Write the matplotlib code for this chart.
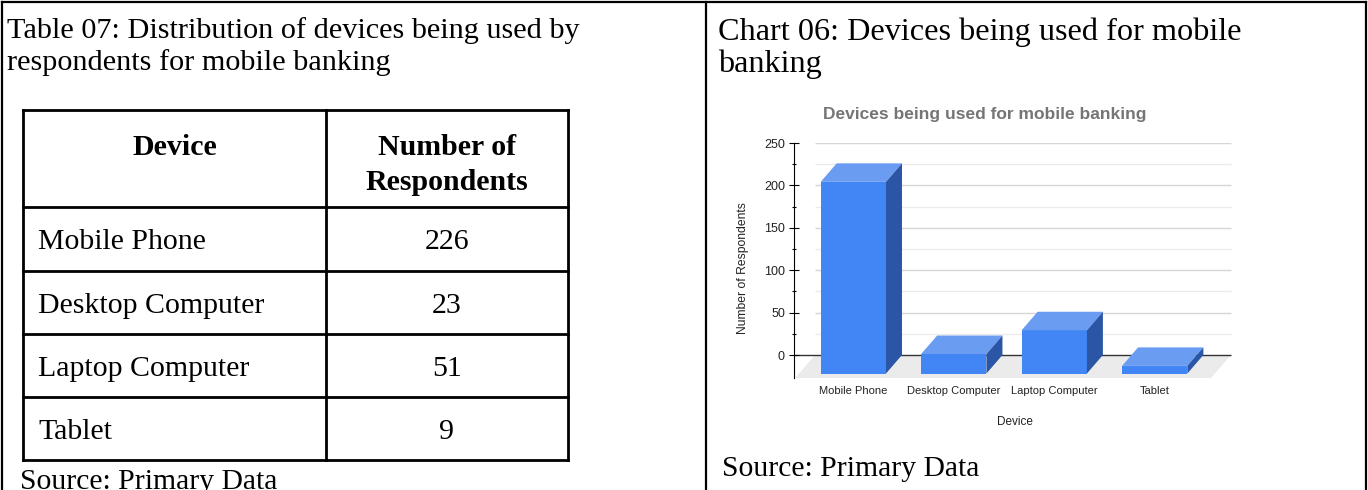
import matplotlib.pyplot as plt
from matplotlib import font_manager
from matplotlib.patches import Polygon

# survey data
devices = ['Mobile Phone', 'Desktop Computer', 'Laptop Computer', 'Tablet']
respondents = [226, 23, 51, 9]
y_major = [0, 50, 100, 150, 200, 250]
y_minor = [25, 75, 125, 175, 225]

table_caption = ['Table 07: Distribution of devices being used by',
                 'respondents for mobile banking']
chart_caption = ['Chart 06: Devices being used for mobile', 'banking']
col_headers = ['Device', 'Number of\nRespondents']
chart_title = 'Devices being used for mobile banking'
source = 'Source: Primary Data'

W, H = 1368, 490
fig = plt.figure(figsize=(W / 100, H / 100), dpi=100)

serif = 'Liberation Serif'
installed = {f.name for f in font_manager.fontManager.ttflist}
narrow = 'Liberation Sans Narrow' if 'Liberation Sans Narrow' in installed else 'Liberation Sans'
sans = 'Liberation Sans'

# page layer in pixels (y down)
page = fig.add_axes([0, 0, 1, 1])
page.set_xlim(0, W)
page.set_ylim(H, 0)
page.axis('off')

# two-cell frame of the document
frame_kw = dict(color='black', lw=1.6, solid_capstyle='projecting')
page.plot([2, 1366], [2, 2], **frame_kw)
for x in [2, 706, 1366]:
    page.plot([x, x], [2, H + 5], **frame_kw)

doc_size = 21.5
page.text(7, 38, table_caption[0], family=serif, size=21.8, va='baseline')
page.text(7, 70, table_caption[1], family=serif, size=21.8, va='baseline')
page.text(718, 40, chart_caption[0], family=serif, size=23.2, va='baseline')
page.text(718, 72, chart_caption[1], family=serif, size=23.2, va='baseline')
page.text(20, 489, source, family=serif, size=21.3, va='baseline')
page.text(722, 476, source, family=serif, size=21.3, va='baseline')

# the table
cols = [23, 326, 568]
rows = [110, 207, 271, 334, 397, 460]
grid_kw = dict(color='black', lw=2.0, capstyle='projecting')
page.hlines(rows, cols[0], cols[-1], **grid_kw)
page.vlines(cols, rows[0], rows[-1], **grid_kw)

mid0 = (cols[0] + cols[1]) / 2
mid1 = (cols[1] + cols[2]) / 2
page.text(mid0, 155, col_headers[0], family=serif, size=doc_size, weight='bold',
          ha='center', va='baseline')
for j, part in enumerate(col_headers[1].split('\n')):
    page.text(mid1, 155 + 35 * j, part, family=serif, size=doc_size, weight='bold',
              ha='center', va='baseline')
for i, (dev, n) in enumerate(zip(devices, respondents)):
    base = (rows[i + 1] + rows[i + 2]) / 2 + 10
    page.text(38, base, dev, family=serif, size=doc_size, va='baseline')
    page.text(mid1, base, str(n), family=serif, size=doc_size, ha='center', va='baseline')

# 3D-style column chart
ax = fig.add_axes([794 / W, 1 - 378 / H, (1235 - 794) / W, (378 - 143) / H])
ax.set_facecolor('none')
xmin, xmax = -0.75, 3.64
ymin, ymax = -27.1, 250
ax.set_xlim(xmin, xmax)
ax.set_ylim(ymin, ymax)
ppx = (1235 - 794) / (xmax - xmin)
ppy = (378 - 143) / (ymax - ymin)

# depth of columns and of the floor, from pixels to data units
dx, dy = 16 / ppx, 18.5 / ppy
fdx = 20 / ppx
gx0, gx1 = -0.54, 3.6
bw = 0.65

floor = Polygon([(gx0, 0), (gx1, 0), (gx1 - fdx, ymin), (gx0 - fdx, ymin)],
                closed=True, facecolor='#ebebeb', edgecolor='none', zorder=0)
ax.add_patch(floor)
ax.hlines(y_major[1:], gx0, gx1, color='#d6d6d6', lw=1, zorder=1)
ax.hlines(y_minor, gx0, gx1, color='#ebebeb', lw=1, zorder=1)
ax.hlines(0, xmin, gx1, color='#333333', lw=1, zorder=1)

xs = list(range(len(devices)))
front = '#4285f4'
top = '#6a9cf2'
side = '#2b55a5'
ax.bar([x - dx for x in xs], respondents, bottom=-dy, width=bw, color=front, zorder=3)
for x, v in zip(xs, respondents):
    x0, x1 = x - bw / 2, x + bw / 2
    ax.add_patch(Polygon([(x0 - dx, v - dy), (x1 - dx, v - dy), (x1, v), (x0, v)],
                         closed=True, facecolor=top, edgecolor='none', zorder=3))
    ax.add_patch(Polygon([(x1 - dx, -dy), (x1, 0), (x1, v), (x1 - dx, v - dy)],
                         closed=True, facecolor=side, edgecolor='none', zorder=3))

for s in ['top', 'right', 'bottom']:
    ax.spines[s].set_visible(False)
ax.spines['left'].set_color('black')
ax.spines['left'].set_linewidth(0.8)
ax.spines['left'].set_bounds(ymin, ymax)

ax.set_yticks(y_major)
ax.set_yticks(y_minor, minor=True)
ax.tick_params(axis='y', which='major', direction='inout', length=7, width=0.8,
               pad=3, labelsize=9, labelcolor='#222222')
ax.tick_params(axis='y', which='minor', direction='inout', length=3.5, width=0.8)
for lab in ax.get_yticklabels():
    lab.set_family(narrow)

ax.set_xticks([x - dx for x in xs], devices)
ax.tick_params(axis='x', length=0, pad=6, labelsize=8, labelcolor='#222222')
for lab in ax.get_xticklabels():
    lab.set_family(narrow)

ax.set_xlabel('Device', family=narrow, size=8.5, color='#222222', labelpad=14)
ax.set_ylabel('Number of Respondents', family=sans, size=8.7, color='#222222')
ax.yaxis.set_label_coords(-0.102, 0.468)

page.text(985, 114, chart_title, family=narrow, size=12.5, weight='bold',
          color='#757575', ha='center', va='center')

fig.savefig('out.png', dpi=100)
